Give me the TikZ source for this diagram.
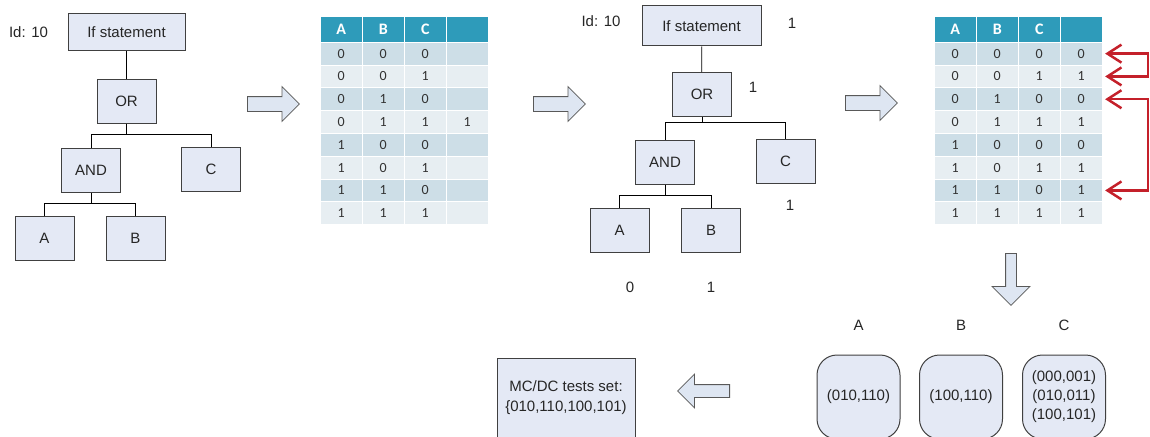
\documentclass[tikz,border=0pt]{standalone}
\usepackage{fontspec}
\setmainfont{Liberation Sans}
\newfontfamily\tabfont{Carlito}
\usetikzlibrary{shapes,arrows.meta,positioning,matrix}

\definecolor{boxfill}{RGB}{228,233,245}
\definecolor{boxline}{RGB}{64,64,64}
\definecolor{arrfill}{RGB}{222,230,242}
\definecolor{headfill}{RGB}{46,155,186}
\definecolor{rowdark}{RGB}{205,222,231}
\definecolor{rowlight}{RGB}{231,238,242}
\definecolor{linkred}{RGB}{196,32,42}

\begin{document}
\begin{tikzpicture}[x=1pt,y=-1pt,font=\fontsize{15}{19}\selectfont,text=black!85,line width=.8pt,
  tree node/.style={rectangle,draw=boxline,fill=boxfill,line width=1pt,minimum width=59pt,minimum height=44pt,inner sep=0pt},
  hollow/.style={single arrow,draw=black!65,fill=arrfill,line width=.8pt,inner xsep=0pt,inner ysep=7pt,
    single arrow head extend=10pt,minimum height=52pt},
  pair/.style={draw=boxline,fill=boxfill,line width=1pt,rounded corners=20pt,minimum width=83pt,minimum height=84pt,align=center,inner sep=0pt},
  cell/.style={rectangle,anchor=center,fill=rowlight,minimum width=41pt,minimum height=21.8pt,inner sep=0pt,
    text height=9pt,text depth=0pt,text=black!80,font=\tabfont\fontsize{14}{14}\selectfont},
  head/.style={fill=headfill,minimum height=25pt,text height=10.5pt,text=white,font=\tabfont\bfseries\fontsize{16}{16}\selectfont},
  tab/.style={matrix of nodes,nodes in empty cells,column sep=1pt,row sep=1pt,anchor=north west,
    nodes={cell},row 1/.style={nodes={head}},every even row/.style={nodes={fill=rowdark}}},
  red link/.style={draw=linkred,line width=2.5pt,line join=miter,shorten <=3pt,shorten >=3pt,
    {Straight Barb[length=14pt,width=18pt]}-{Straight Barb[length=14pt,width=18pt]}}]

  \useasboundingbox (0,0) rectangle (1150,436);

  \node[tree node,minimum width=117pt,minimum height=37pt] (1) at (126.5,32) {If statement};
  \node[tree node] (2) at (126.5,101) {OR};
  \node[tree node] (3) at (91,170.5) {AND};
  \node[tree node] (4) at (211,169.5) {C};
  \node[tree node] (5) at (44.5,238.5) {A};
  \node[tree node] (6) at (135.5,238.5) {B};
  \node (7) at (28.5,32) {Id: 10};

  \draw (1) -- (2);
  \draw (2.south) -- ++(0,11) -| (3);
  \draw (2.south) -- ++(0,11) -| (4);
  \draw (3.south) -- ++(0,10.5) -| (5);
  \draw (3.south) -- ++(0,10.5) -| (6);

  \node[hollow,anchor=tail] (a1) at (247,104) {};

  \matrix (t1) [tab] at (317,13) {
    A & B & C & \\
    0 & 0 & 0 & \\
    0 & 0 & 1 & \\
    0 & 1 & 0 & \\
    0 & 1 & 1 & 1 \\
    1 & 0 & 0 & \\
    1 & 0 & 1 & \\
    1 & 1 & 0 & \\
    1 & 1 & 1 & \\
  };

  \node[hollow,anchor=tail] (a2) at (533,104) {};

  \node[tree node,minimum width=119pt,minimum height=40pt] (11) at (701.5,26) {If statement};
  \node[tree node] (12) at (702,94.5) {OR};
  \node[tree node] (13) at (665,162) {AND};
  \node[tree node] (14) at (785.5,161) {C};
  \node[tree node] (15) at (619.5,230) {A};
  \node[tree node] (16) at (711,230) {B};
  \node (17) at (601,21) {Id: 10};
  \node (v1) at (792,23) {1};
  \node (v2) at (753,87) {1};
  \node (v3) at (790,205) {1};
  \node (v4) at (630,287) {0};
  \node (v5) at (711,287) {1};

  \draw (11) -- (12);
  \draw (12.south) -- ++(0,5.5) -| (13);
  \draw (12.south) -- ++(0,5.5) -| (14);
  \draw (13.south) -- ++(0,11) -| (15);
  \draw (13.south) -- ++(0,11) -| (16);

  \node[hollow,anchor=tail] (a3) at (845,103) {};

  \matrix (t2) [tab] at (931,13) {
    A & B & C & \\
    0 & 0 & 0 & 0 \\
    0 & 0 & 1 & 1 \\
    0 & 1 & 0 & 0 \\
    0 & 1 & 1 & 1 \\
    1 & 0 & 0 & 0 \\
    1 & 0 & 1 & 1 \\
    1 & 1 & 0 & 1 \\
    1 & 1 & 1 & 1 \\
  };

  \draw[red link] (t2-2-4.east) -- ++(46,0) |- (t2-3-4.east);
  \draw[red link] (t2-4-4.east) -- ++(46,0) |- (t2-8-4.east);

  \node[hollow,anchor=tail,rotate=-90,inner ysep=5pt,single arrow head extend=13.5pt] (a4) at (1011,253) {};

  \node[pair] (pA) at (858.5,397) {(010,110)};
  \node[pair] (pB) at (961,397) {(100,110)};
  \node[pair] (pC) at (1064,397) {(000,001)\\(010,011)\\(100,101)};
  \node (lA) [above=20pt of pA] {A};
  \node (lB) [above=20pt of pB] {B};
  \node (lC) [above=20pt of pC] {C};

  \node[hollow,anchor=tail,rotate=180,inner ysep=6pt,single arrow head extend=10.5pt] (a5) at (730,391) {};
  \node[tree node,minimum width=138pt,minimum height=80pt,align=center,font=\fontsize{15}{20}\selectfont] (r) at (566,398)
    {MC/DC tests set:\\\{010,110,100,101)};
\end{tikzpicture}
\end{document}
